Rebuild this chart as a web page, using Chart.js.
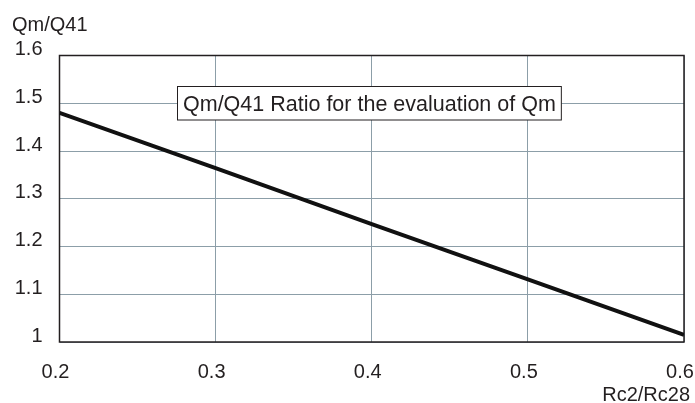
<!DOCTYPE html>
<html>
<head>
<meta charset="utf-8">
<script src="https://cdn.jsdelivr.net/npm/chart.js@4.4.0/dist/chart.umd.min.js"></script>
<style>
html,body{margin:0;padding:0;background:#fff;}
#wrap{width:695px;height:403px;}
</style>
</head>
<body>
<div id="wrap"><canvas id="c" width="695" height="403"></canvas></div>
<script>
const xValues = [0.2, 0.3, 0.4, 0.5, 0.6];
const ratioValues = [1.48, 1.364, 1.247, 1.131, 1.015];
const xTickLabels = ['0.2', '0.3', '0.4', '0.5', '0.6'];
const yTickLabels = ['1', '1.1', '1.2', '1.3', '1.4', '1.5', '1.6'];
const seriesLabel = 'Qm/Q41 Ratio for the evaluation of Qm';
const xTitle = 'Rc2/Rc28';
const yTitle = 'Qm/Q41';

const FONT = '"Liberation Sans", Arial, sans-serif';
const TEXT = '#231f20';

const overlay = {
  id: 'overlay',
  beforeDatasetsDraw(chart) {
    const {ctx, chartArea: a} = chart;
    ctx.save();
    ctx.strokeStyle = '#231f20';
    ctx.lineWidth = 1.5;
    ctx.strokeRect(a.left, a.top, a.right - a.left, a.bottom - a.top);
    ctx.restore();
  },
  afterDraw(chart) {
    const {ctx} = chart;
    ctx.save();
    // axis titles
    ctx.fillStyle = TEXT;
    ctx.font = '20px ' + FONT;
    ctx.textBaseline = 'middle';
    ctx.textAlign = 'left';
    ctx.fillText(yTitle, 12, 25);
    ctx.textAlign = 'right';
    ctx.fillText(xTitle, 690, 395);
    // legend box
    ctx.font = '21.5px ' + FONT;
    const tw = ctx.measureText(seriesLabel).width;
    const bx = 177.5, by = 86.5, bh = 33.5, bw = tw + 11;
    ctx.fillStyle = '#fff';
    ctx.fillRect(bx, by, bw, bh);
    ctx.strokeStyle = '#231f20';
    ctx.lineWidth = 1;
    ctx.strokeRect(bx, by, bw, bh);
    ctx.fillStyle = TEXT;
    ctx.textAlign = 'left';
    ctx.textBaseline = 'alphabetic';
    ctx.fillText(seriesLabel, bx + 5.5, 111.3);
    ctx.restore();
  }
};

new Chart(document.getElementById('c'), {
  type: 'line',
  data: {
    datasets: [{
      label: seriesLabel,
      data: xValues.map((x, i) => ({x: x, y: ratioValues[i]})),
      borderColor: '#111111',
      borderWidth: 4,
      pointRadius: 0,
      tension: 0,
      fill: false
    }]
  },
  plugins: [overlay],
  options: {
    responsive: false,
    animation: false,
    devicePixelRatio: 1,
    layout: {padding: {left: 0, top: 55.5, right: 11, bottom: 0}},
    plugins: {legend: {display: false}, tooltip: {enabled: false}, title: {display: false}},
    scales: {
      x: {
        type: 'linear',
        min: 0.2, max: 0.6,
        afterBuildTicks(s) { s.ticks = xValues.map(v => ({value: v})); },
        afterFit(s) { s.height = 61; s.paddingLeft = 0; s.paddingRight = 0; },
        grid: {color: '#8c9ea8', lineWidth: 1, drawTicks: false},
        border: {display: false},
        ticks: {
          padding: 18,
          labelOffset: -4,
          color: TEXT,
          font: {family: FONT, size: 20},
          maxRotation: 0,
          autoSkip: false,
          callback: (v, i) => xTickLabels[i]
        }
      },
      y: {
        type: 'linear',
        min: 1, max: 1.6,
        afterBuildTicks(s) { s.ticks = yTickLabels.map(t => ({value: parseFloat(t)})); },
        afterFit(s) { s.width = 59.5; s.paddingTop = 0; s.paddingBottom = 0; },
        grid: {color: '#8c9ea8', lineWidth: 1, drawTicks: false},
        border: {display: false},
        ticks: {
          padding: 17,
          labelOffset: -6,
          color: TEXT,
          font: {family: FONT, size: 20},
          autoSkip: false,
          callback: (v, i) => yTickLabels[i]
        }
      }
    }
  }
});
</script>
</body>
</html>
